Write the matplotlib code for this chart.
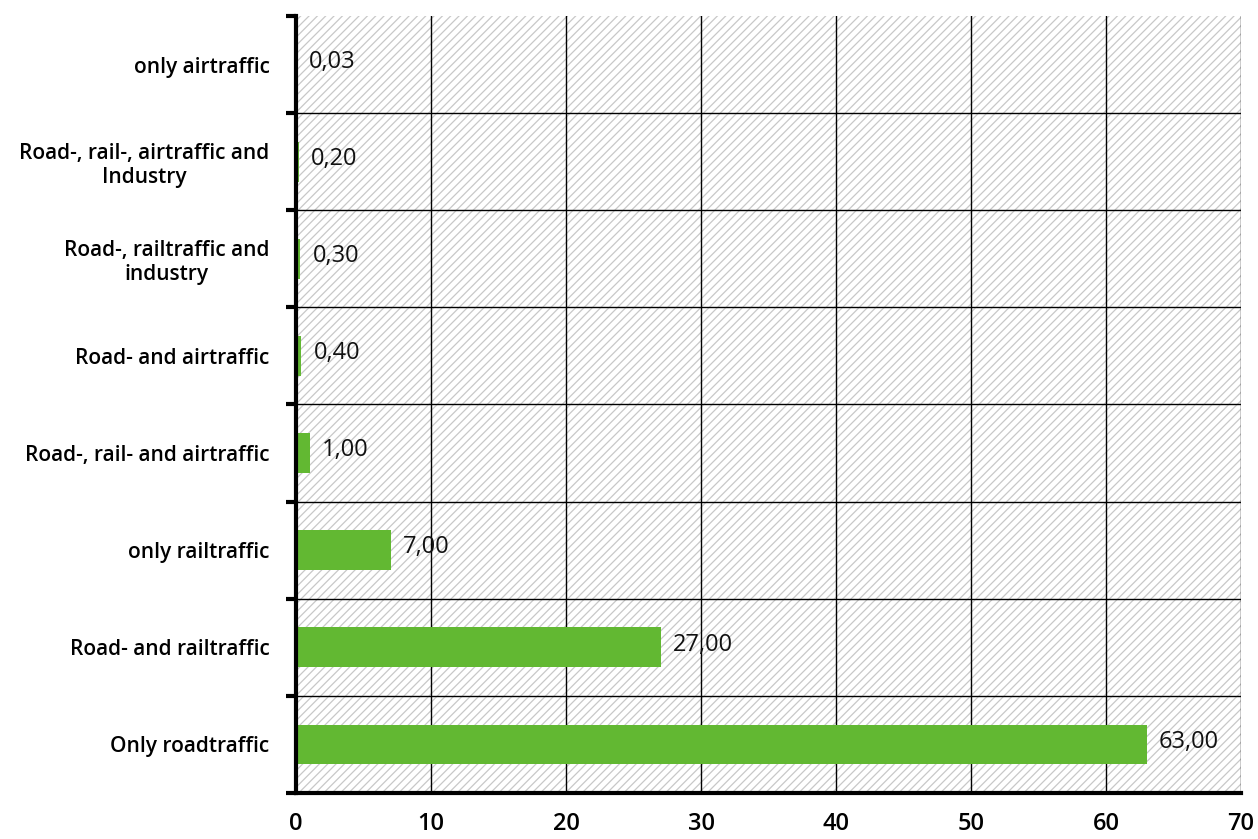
import matplotlib.pyplot as plt
from matplotlib.patches import Rectangle

# Data
categories = [
    "Only roadtraffic",
    "Road- and railtraffic",
    "only railtraffic",
    "Road-, rail- and airtraffic",
    "Road- and airtraffic",
    "Road-, railtraffic and\nindustry",
    "Road-, rail-, airtraffic and\nIndustry",
    "only airtraffic",
]
values = [63.00, 27.00, 7.00, 1.00, 0.40, 0.30, 0.20, 0.03]
xticks = [0, 10, 20, 30, 40, 50, 60, 70]

plt.rcParams["font.family"] = ["Open Sans", "DejaVu Sans"]
plt.rcParams["hatch.linewidth"] = 0.9
plt.rcParams["hatch.color"] = "#c8c8c8"

fig = plt.figure(figsize=(12.58, 8.39), dpi=100)
ax = fig.add_axes([0.2353, 0.0548, 0.7512, 0.9262])

# hatched background
ax.add_patch(Rectangle((0, 0), 1, 1, transform=ax.transAxes, facecolor="white",
                       edgecolor="#c8c8c8", hatch="////", linewidth=0, zorder=0))

ypos = list(range(len(categories)))
ax.barh(ypos, values, height=0.41, color="#62b832", zorder=3)

for y, v in zip(ypos, values):
    ax.annotate(f"{v:.2f}".replace(".", ","), (v, y), xytext=(9, 2),
                textcoords="offset points", va="center", ha="left",
                fontsize=17, color="#111111", zorder=4)

ax.set_xlim(0, 70)
ax.set_ylim(-0.5, len(categories) - 0.5)

# grid lines
for x in xticks[1:]:
    ax.axvline(x, color="black", linewidth=1.0, zorder=2)
for b in range(len(categories) - 1):
    ax.axhline(b + 0.5, color="black", linewidth=1.0, zorder=2)

ax.set_xticks(xticks)
ax.set_xticklabels([str(t) for t in xticks], fontsize=17, fontweight="semibold")
ax.tick_params(axis="x", length=0, pad=14)

ax.set_yticks([b - 0.5 for b in range(len(categories) + 1)])
ax.set_yticklabels([])
ax.set_yticks(ypos, minor=True)
ax.set_yticklabels(categories, minor=True, fontsize=15, fontweight="semibold",
                   multialignment="center")
ax.tick_params(axis="y", which="major", length=7, width=3, direction="out")
ax.tick_params(axis="y", which="minor", length=0, pad=19)

for side in ["top", "right"]:
    ax.spines[side].set_visible(False)
ax.spines["left"].set_linewidth(3)
ax.spines["bottom"].set_linewidth(3)
ax.spines["left"].set_zorder(5)

fig.savefig("out.png", dpi=100)
